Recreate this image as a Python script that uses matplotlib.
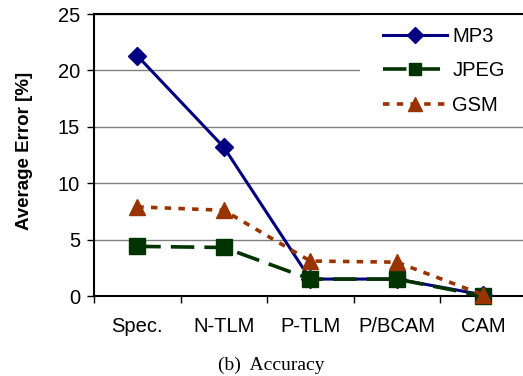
import matplotlib
matplotlib.use("Agg")
import matplotlib.pyplot as plt
from matplotlib.patches import Rectangle
import numpy as np

categories = ["Spec.", "N-TLM", "P-TLM", "P/BCAM", "CAM"]
mp3 = [21.3, 13.2, 1.5, 1.5, 0.1]
jpeg = [4.4, 4.3, 1.5, 1.5, 0.0]
gsm = [7.9, 7.6, 3.1, 3.0, 0.1]
y_ticks = [0, 5, 10, 15, 20, 25]

plt.rcParams['font.family'] = ['Liberation Sans', 'DejaVu Sans']

fig = plt.figure(figsize=(5.23, 3.76), dpi=100)
ax = fig.add_axes([94 / 523, 80 / 376, 432.5 / 523, 282 / 376])

x = np.arange(len(categories))

ax.plot(x, mp3, color='#000080', lw=2.2, marker='D', ms=9, label='MP3', clip_on=False, zorder=3)
ax.plot(x, jpeg, color='#003300', lw=2.6, ls=(0, (6.5, 2.8)), marker='s', ms=11, label='JPEG', clip_on=False, zorder=4)
ax.plot(x, gsm, color='#993300', lw=2.6, ls=(0, (1.8, 2.0)), marker='^', ms=12, label='GSM', clip_on=False, zorder=5)

ax.set_xlim(-0.5, len(categories) - 0.5)
ax.set_ylim(0, 25)
ax.set_yticks(y_ticks)
ax.yaxis.grid(True, color='#808080', lw=1)
ax.set_axisbelow(True)

# white box behind the legend hides the grid there
ax.add_patch(Rectangle((0.615, 0.624), 0.4, 0.376, transform=ax.transAxes,
                       facecolor='white', edgecolor='none', zorder=1))

ax.set_xticks(x)
ax.set_xticklabels(categories, fontsize=14.5)
ax.set_xticks(np.arange(len(categories) + 1) - 0.5, minor=True)
ax.tick_params(axis='x', which='major', length=0, pad=15)
ax.tick_params(axis='x', which='minor', length=5, width=1, direction='out')
ax.tick_params(axis='y', labelsize=14.5, length=5, width=1, direction='out', pad=5)

for s in ['left', 'bottom', 'top']:
    ax.spines[s].set_linewidth(1.5)
    ax.spines[s].set_color('black')
ax.spines['right'].set_visible(False)

ax.set_ylabel("Average Error [%]", fontsize=13.5, fontweight='bold')
ax.yaxis.set_label_coords(-0.141, 0.516)

leg = ax.legend(loc='upper left', bbox_to_anchor=(0.668, 0.955), frameon=False, fontsize=14.5,
                handlelength=3.2, labelspacing=0.78, borderpad=0, borderaxespad=0,
                handletextpad=0.25, markerscale=0.85)
leg.set_zorder(6)

fig.text(271.5 / 523, 1 - 365 / 376, "(b)  Accuracy", family=['Liberation Serif', 'DejaVu Serif'],
         fontsize=14, ha='center', va='center')

fig.savefig("out.png", dpi=100)
